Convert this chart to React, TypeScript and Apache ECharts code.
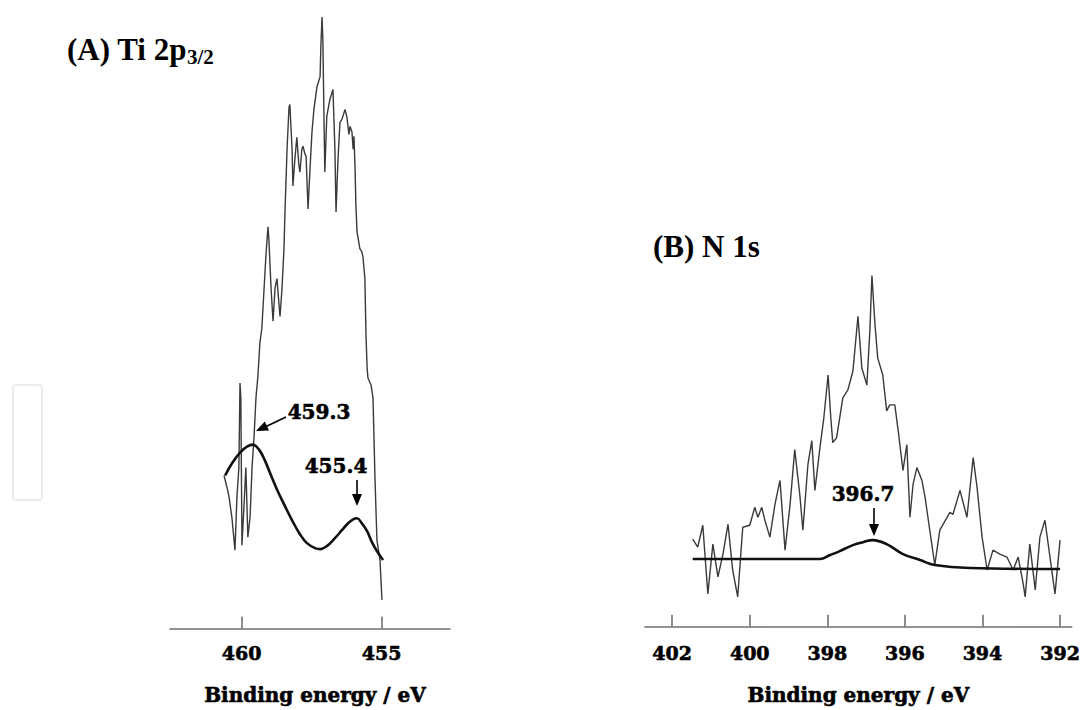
import React, { useEffect, useRef } from "react";
import * as echarts from "echarts";

// ---------- data (binding energy in eV, intensity in arbitrary units) ----------
const tiTicks = [460, 455];
const n1sTicks = [402, 400, 398, 396, 394, 392];

const tiRaw: [number, number][] = [
  [460.63, 154], [460.56, 146], [460.49, 138], [460.45, 132], [460.35, 112], [460.24, 79],
  [460.17, 132], [460.1, 162], [460.06, 247], [460.03, 232], [459.99, 84], [459.92, 122],
  [459.85, 162], [459.78, 92], [459.7, 112], [459.63, 162], [459.56, 192], [459.49, 232],
  [459.42, 254], [459.35, 287], [459.28, 302], [459.2, 342], [459.13, 377], [459.06, 404],
  [459.03, 392], [458.95, 342], [458.88, 309], [458.81, 342], [458.74, 352], [458.67, 327],
  [458.63, 314], [458.56, 342], [458.49, 382], [458.45, 422], [458.38, 482], [458.31, 524],
  [458.28, 527], [458.2, 482], [458.17, 445], [458.1, 472], [458.03, 494], [457.96, 467],
  [457.92, 459], [457.85, 482], [457.81, 485], [457.74, 477], [457.7, 475], [457.63, 422],
  [457.56, 462], [457.49, 499], [457.42, 522], [457.31, 545], [457.2, 555], [457.17, 587],
  [457.13, 615], [457.1, 592], [457.06, 512], [457.03, 459], [456.96, 515], [456.85, 532],
  [456.74, 542], [456.67, 482], [456.63, 419], [456.56, 472], [456.49, 509], [456.42, 512],
  [456.31, 522], [456.24, 514], [456.17, 497], [456.13, 505], [456.06, 499], [456.02, 482],
  [455.99, 495], [455.95, 462], [455.92, 425], [455.88, 399], [455.78, 382], [455.71, 379],
  [455.67, 374], [455.6, 352], [455.56, 295], [455.52, 262], [455.49, 252], [455.38, 245],
  [455.31, 232], [455.24, 152], [455.17, 89], [455.06, 69], [454.99, 29],
];

const tiFit: [number, number][] = [
  [460.59, 154], [460.35, 166], [460.06, 177], [459.81, 183], [459.6, 185], [459.38, 180],
  [459.17, 169], [458.95, 154], [458.74, 140], [458.45, 123], [458.2, 109], [457.92, 95],
  [457.67, 86], [457.38, 81], [457.2, 80], [456.96, 83], [456.67, 91], [456.42, 99],
  [456.2, 106], [456.02, 110], [455.88, 111], [455.71, 106], [455.52, 98], [455.35, 87],
  [455.17, 78], [454.95, 69],
];

const n1sRaw: [number, number][] = [
  [401.47, 88], [401.34, 80], [401.21, 102], [401.08, 33], [400.95, 83], [400.82, 50],
  [400.69, 73], [400.56, 103], [400.44, 57], [400.31, 30], [400.18, 100], [400.0, 102],
  [399.87, 120], [399.79, 110], [399.69, 120], [399.61, 107], [399.48, 90], [399.35, 123],
  [399.22, 147], [399.09, 77], [398.96, 123], [398.84, 178], [398.71, 133], [398.63, 97],
  [398.5, 163], [398.4, 187], [398.32, 137], [398.19, 180], [398.09, 210], [397.98, 253],
  [397.91, 210], [397.86, 185], [397.76, 190], [397.6, 230], [397.47, 238], [397.34, 257],
  [397.21, 312], [397.11, 260], [396.98, 243], [396.9, 300], [396.85, 353], [396.77, 303],
  [396.7, 270], [396.57, 253], [396.47, 217], [396.39, 223], [396.26, 223], [396.16, 193],
  [396.05, 157], [395.95, 183], [395.87, 110], [395.79, 143], [395.69, 160], [395.56, 147],
  [395.48, 130], [395.23, 62], [395.1, 97], [394.84, 115], [394.76, 113], [394.58, 137],
  [394.4, 110], [394.24, 170], [394.14, 140], [394.01, 90], [393.88, 57], [393.73, 77],
  [393.55, 73], [393.37, 70], [393.21, 57], [393.08, 70], [392.95, 43], [392.9, 30],
  [392.78, 83], [392.64, 37], [392.52, 90], [392.39, 107], [392.26, 70], [392.13, 33],
  [392.0, 87],
];

const n1sFit: [number, number][] = [
  [401.47, 68], [398.19, 68], [397.93, 72], [397.68, 76], [397.34, 82], [397.08, 85],
  [396.83, 87], [396.47, 83], [396.05, 73], [395.61, 67], [395.23, 62], [394.32, 59],
  [392.0, 58],
];

const axisName = "Binding energy / eV";

export default function App() {
  const ref = useRef<HTMLDivElement>(null);

  useEffect(() => {
    if (!ref.current) return;
    const chart = echarts.init(ref.current, undefined, { renderer: "svg" });

    const numFont = "'DejaVu Serif', serif";
    const titleFont = "'Liberation Serif', 'Times New Roman', serif";
    const axisColor = "#707070";

    const makeX = (gridIndex: number, min: number, max: number, ticks: number[], margin: number, gap: number, pad: number) => ({
      type: "value",
      gridIndex,
      inverse: true,
      min,
      max,
      name: axisName,
      nameLocation: "middle",
      nameGap: gap,
      nameTextStyle: {
        fontFamily: numFont,
        fontWeight: "bold",
        fontSize: 20,
        color: "#000",
        textBorderColor: "#000",
        textBorderWidth: 0.6,
        padding: [0, 0, 0, pad],
      },
      axisLine: { show: true, lineStyle: { color: axisColor, width: 1.6 } },
      axisTick: {
        show: true,
        inside: true,
        length: 12,
        customValues: ticks,
        lineStyle: { color: axisColor, width: 1.6 },
      },
      axisLabel: {
        show: true,
        customValues: ticks,
        margin,
        fontFamily: numFont,
        fontWeight: "bold",
        fontSize: 19,
        color: "#000",
        textBorderColor: "#000",
        textBorderWidth: 0.6,
      },
      splitLine: { show: false },
    });

    const makeY = (gridIndex: number, max: number) => ({
      type: "value",
      gridIndex,
      min: 0,
      max,
      show: false,
      splitLine: { show: false },
    });

    const rawStyle = { color: "#3a3a3a", width: 1.4 };
    const fitStyle = { color: "#111", width: 2.6 };

    const arrowStyle = { stroke: "#000", lineWidth: 1.6 };
    const headStyle = { fill: "#000" };
    const annoText = (text: string, x: number, y: number) => ({
      type: "text",
      x,
      y,
      style: {
        text,
        fontFamily: numFont,
        fontWeight: "bold",
        fontSize: 20,
        fill: "#000",
        stroke: "#000",
        lineWidth: 0.6,
        align: "center",
        verticalAlign: "middle",
      },
    });

    chart.setOption({
      animation: false,
      backgroundColor: "#fff",
      grid: [
        { left: 170, right: 634, top: 0, bottom: 78 },
        { left: 645, right: 12.3, top: 0, bottom: 80 },
      ],
      xAxis: [
        makeX(0, 452.56, 462.56, tiTicks, 15, 56, 10),
        makeX(1, 391.7, 402.7, n1sTicks, 17, 58, 0),
      ],
      yAxis: [makeY(0, 632), makeY(1, 630)],
      series: [
        { type: "line", xAxisIndex: 0, yAxisIndex: 0, data: tiRaw, showSymbol: false, lineStyle: rawStyle, silent: true },
        { type: "line", xAxisIndex: 0, yAxisIndex: 0, data: tiFit, showSymbol: false, smooth: 0.4, lineStyle: fitStyle, silent: true },
        { type: "line", xAxisIndex: 1, yAxisIndex: 1, data: n1sRaw, showSymbol: false, lineStyle: rawStyle, silent: true },
        { type: "line", xAxisIndex: 1, yAxisIndex: 1, data: n1sFit, showSymbol: false, smooth: 0.4, lineStyle: fitStyle, silent: true },
      ],
      graphic: [
        {
          type: "rect",
          shape: { x: 13, y: 385, width: 29, height: 115, r: 3 },
          style: { fill: "none", stroke: "#ececec", lineWidth: 2 },
        },
        {
          type: "text",
          x: 67,
          y: 49,
          style: {
            text: "(A) Ti 2p",
            fontFamily: titleFont,
            fontWeight: "bold",
            fontSize: 31,
            fill: "#000",
            verticalAlign: "middle",
          },
        },
        {
          type: "text",
          x: 187,
          y: 57,
          style: {
            text: "3/2",
            fontFamily: titleFont,
            fontWeight: "bold",
            fontSize: 21,
            fill: "#000",
            verticalAlign: "middle",
          },
        },
        {
          type: "text",
          x: 653,
          y: 246,
          style: {
            text: "(B) N 1s",
            fontFamily: titleFont,
            fontWeight: "bold",
            fontSize: 31,
            fill: "#000",
            verticalAlign: "middle",
          },
        },
        annoText("459.3", 319, 412),
        annoText("455.4", 336, 466),
        annoText("396.7", 863, 494),
        { type: "line", shape: { x1: 286, y1: 417, x2: 265, y2: 427 }, style: arrowStyle },
        { type: "polygon", shape: { points: [[256, 431], [269, 430.4], [264.8, 421.4]] }, style: headStyle },
        { type: "line", shape: { x1: 357, y1: 480, x2: 357, y2: 496 }, style: arrowStyle },
        { type: "polygon", shape: { points: [[357, 506], [352, 494], [362, 494]] }, style: headStyle },
        { type: "line", shape: { x1: 874, y1: 508, x2: 874, y2: 526 }, style: arrowStyle },
        { type: "polygon", shape: { points: [[874, 536], [869, 524], [879, 524]] }, style: headStyle },
      ],
    });

    return () => chart.dispose();
  }, []);

  return (
    <div
      ref={ref}
      style={{ position: "absolute", left: 0, top: 0, width: 1084, height: 710, background: "#fff" }}
    />
  );
}
